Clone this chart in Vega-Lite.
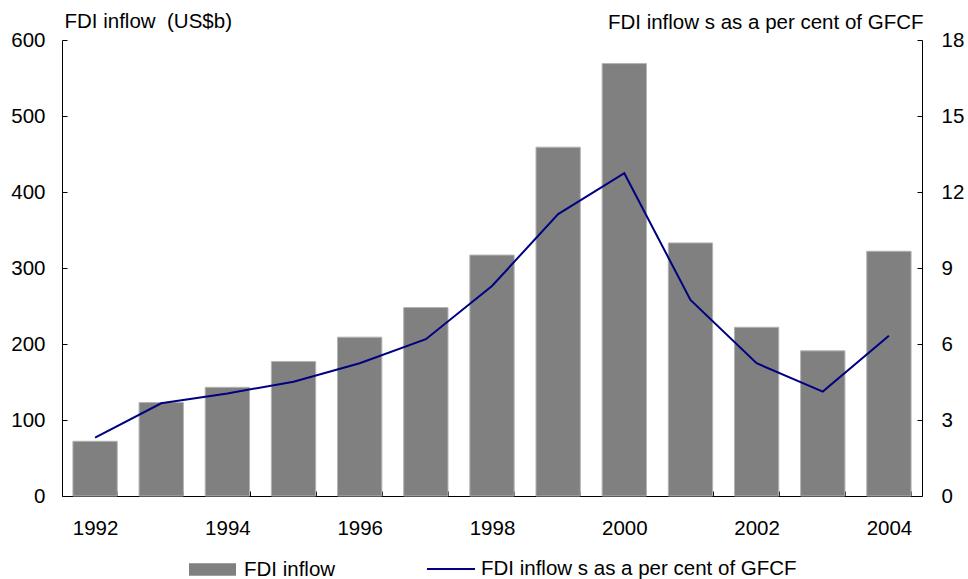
{
  "$schema": "https://vega.github.io/schema/vega-lite/v6.json",
  "autosize": "none",
  "width": 860,
  "height": 456,
  "padding": {"left": 62, "top": 40, "right": 46, "bottom": 83},
  "background": "white",
  "config": {
    "view": {"stroke": null},
    "font": "Liberation Sans",
    "axis": {"labelFont": "Liberation Sans", "titleFont": "Liberation Sans", "labelFontSize": 20.5, "titleFontSize": 20.5, "titleFontWeight": "normal", "labelColor": "black", "titleColor": "black", "domainColor": "black", "tickColor": "black", "grid": false},
    "legend": {"labelFont": "Liberation Sans", "labelFontSize": 20.5, "labelColor": "black", "labelLimit": 0}
  },
  "data": {"values": [
    {"year": 1992, "fdi": 72, "pct": 2.30},
    {"year": 1993, "fdi": 123, "pct": 3.66},
    {"year": 1994, "fdi": 143, "pct": 4.05},
    {"year": 1995, "fdi": 177, "pct": 4.51},
    {"year": 1996, "fdi": 209, "pct": 5.24},
    {"year": 1997, "fdi": 248, "pct": 6.19},
    {"year": 1998, "fdi": 317, "pct": 8.29},
    {"year": 1999, "fdi": 459, "pct": 11.13},
    {"year": 2000, "fdi": 569, "pct": 12.74},
    {"year": 2001, "fdi": 333, "pct": 7.74},
    {"year": 2002, "fdi": 222, "pct": 5.24},
    {"year": 2003, "fdi": 191, "pct": 4.12},
    {"year": 2004, "fdi": 322, "pct": 6.33}
  ]},
  "encoding": {
    "x": {
      "field": "year", "type": "ordinal",
      "scale": {"paddingInner": 0.33, "paddingOuter": 0.165},
      "axis": {"title": null, "labelAngle": 0, "tickBand": "extent", "tickSize": -5, "labelPadding": 27, "labelExpr": "datum.value % 2 == 0 ? datum.label : ''"}
    }
  },
  "layer": [
    {
      "mark": {"type": "bar", "stroke": "#b3b3b3", "strokeWidth": 1},
      "encoding": {
        "y": {"field": "fdi", "type": "quantitative", "scale": {"domain": [0, 600]},
          "axis": {"orient": "left", "values": [0, 100, 200, 300, 400, 500, 600], "tickSize": -5, "labelPadding": 22, "title": "FDI inflow\u00a0 (US$b)", "titleAngle": 0, "titleAlign": "left", "titleBaseline": "alphabetic", "titleX": 2, "titleY": -12.5}},
        "color": {"datum": "FDI inflow", "scale": {"range": ["#808080"]},
          "legend": {"orient": "none", "legendX": 127, "legendY": 506, "title": null, "padding": 0, "symbolType": "M-1,-0.27L1,-0.27L1,0.27L-1,0.27Z", "symbolSize": 2209, "symbolStrokeWidth": 0, "labelOffset": 8}}
      }
    },
    {
      "mark": {"type": "line", "strokeWidth": 2},
      "encoding": {
        "y": {"field": "pct", "type": "quantitative", "scale": {"domain": [0, 18]},
          "axis": {"orient": "right", "values": [0, 3, 6, 9, 12, 15, 18], "tickSize": -5, "labelPadding": 24, "title": "FDI inflow s as a per cent of GFCF", "titleAngle": 0, "titleAlign": "right", "titleBaseline": "alphabetic", "titleX": 1, "titleY": -12}},
        "stroke": {"datum": "FDI inflow s as a per cent of GFCF", "scale": {"range": ["#000080"]},
          "legend": {"orient": "none", "legendX": 364, "legendY": 504, "title": null, "padding": 0, "symbolType": "stroke", "symbolSize": 2304, "symbolStrokeWidth": 2, "labelOffset": 5}}
      }
    }
  ],
  "resolve": {"scale": {"y": "independent", "color": "independent", "stroke": "independent"}}
}
